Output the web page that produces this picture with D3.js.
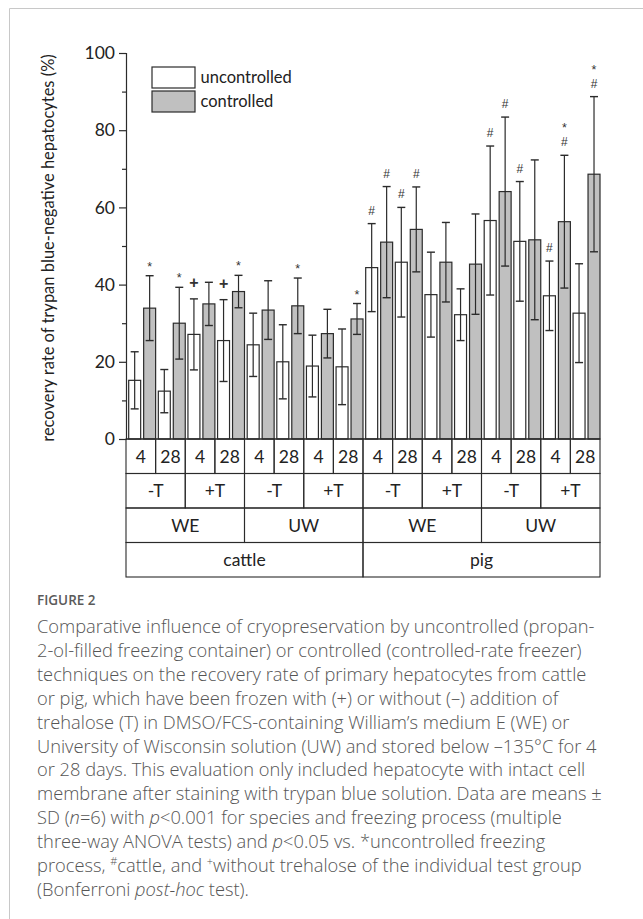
<!DOCTYPE html>
<html>
<head>
<meta charset="utf-8">
<script src="https://cdn.jsdelivr.net/npm/d3@7"></script>
<style>
  html, body { margin: 0; padding: 0; background: #fff; }
  svg { display: block; }
</style>
</head>
<body>
<svg id="chart" width="643" height="919"></svg>
<script>
// ---------- DATA ----------
const species = ["cattle", "pig"];
const media = ["WE", "UW", "WE", "UW"];
const trehalose = ["-T", "+T", "-T", "+T", "-T", "+T", "-T", "+T"];
const days = ["4", "28", "4", "28", "4", "28", "4", "28", "4", "28", "4", "28", "4", "28", "4", "28"];
const seriesNames = ["uncontrolled", "controlled"];

const uncontrolledMean = [15.2, 12.4, 27.1, 25.5, 24.4, 20.0, 18.9, 18.7, 44.4, 45.8, 37.4, 32.2, 56.6, 51.2, 37.1, 32.6];
const uncontrolledSD   = [7.4, 5.6, 9.2, 10.6, 8.2, 9.6, 8.0, 9.8, 11.4, 14.2, 11.0, 6.7, 19.3, 15.5, 9.0, 12.8];
const controlledMean   = [33.9, 30.0, 35.0, 38.2, 33.4, 34.5, 27.3, 31.1, 51.0, 54.3, 45.8, 45.3, 64.1, 51.6, 56.3, 68.6];
const controlledSD     = [8.4, 9.3, 5.6, 4.2, 7.6, 7.2, 6.3, 4.0, 14.4, 11.0, 10.3, 13.0, 19.3, 20.7, 17.2, 20.1];

// significance markers (listed bottom to top)
const uncontrolledMarks = [[], [], ["+"], ["+"], [], [], [], [], ["#"], ["#"], [], [], ["#"], ["#"], ["#"], []];
const controlledMarks   = [["*"], ["*"], [], ["*"], [], ["*"], [], ["*"], ["#"], ["#"], [], [], ["#"], [], ["#", "*"], ["#", "*"]];

const yTicks = [0, 20, 40, 60, 80, 100];
const yMinorTicks = [10, 30, 50, 70, 90];

const yTitle = "recovery rate of trypan blue-negative hepatocytes (%)";
const captionTitle = "FIGURE 2";

// ---------- SETUP ----------
const svg = d3.select("#chart");
const ink = "#2b2b2b";
const chartFont = "Lato, 'Open Sans', sans-serif";

const x0 = 126, x1 = 600, yTop = 53, yBase = 439;
const rowH = 34.5;

const y = d3.scaleLinear().domain([0, 100]).range([yBase, yTop]);
const xCol = d3.scaleBand().domain(d3.range(days.length)).range([x0, x1]).padding(0);
const xSer = d3.scaleBand().domain(seriesNames).range([0, xCol.bandwidth()])
  .paddingInner(0.2).paddingOuter(0.09).align(1);

// page frame
svg.append("line").attr("x1", 9.5).attr("x2", 643).attr("y1", 8.5).attr("y2", 8.5)
  .attr("stroke", "#c8c8c8").attr("stroke-width", 1);
svg.append("line").attr("x1", 9.5).attr("x2", 9.5).attr("y1", 8.5).attr("y2", 919)
  .attr("stroke", "#c8c8c8").attr("stroke-width", 1);

// ---------- Y AXIS ----------
const yAxis = d3.axisLeft(y).tickValues(yTicks).tickSize(7).tickPadding(4).tickFormat(d3.format("d"));
const gy = svg.append("g").attr("transform", `translate(${x0},0)`).call(yAxis);
gy.select(".domain").attr("stroke", ink).attr("stroke-width", 1.2);
gy.selectAll(".tick line").attr("stroke", ink).attr("stroke-width", 1.2);
gy.selectAll(".tick text").attr("fill", "#222").style("font-family", chartFont).style("font-size", "17.5px");
const yMinor = d3.axisLeft(y).tickValues(yMinorTicks).tickSize(4).tickFormat("");
const gym = svg.append("g").attr("transform", `translate(${x0},0)`).call(yMinor);
gym.select(".domain").remove();
gym.selectAll(".tick line").attr("stroke", ink).attr("stroke-width", 1.2);

svg.append("text")
  .attr("transform", `translate(54,${(yTop + yBase) / 2 + 2}) rotate(-90)`)
  .attr("text-anchor", "middle")
  .style("font-family", chartFont).style("font-size", "16.5px").attr("fill", "#222")
  .text(yTitle);

// ---------- BARS ----------
const series = [
  { name: "uncontrolled", mean: uncontrolledMean, sd: uncontrolledSD, marks: uncontrolledMarks, fill: "#ffffff" },
  { name: "controlled", mean: controlledMean, sd: controlledSD, marks: controlledMarks, fill: "#c0c0c0" }
];

series.forEach(s => {
  const g = svg.append("g");
  const data = s.mean.map((m, i) => ({ i, m, sd: s.sd[i], marks: s.marks[i] }));
  g.selectAll("rect").data(data).join("rect")
    .attr("x", d => xCol(d.i) + xSer(s.name))
    .attr("width", xSer.bandwidth())
    .attr("y", d => y(d.m))
    .attr("height", d => y(0) - y(d.m))
    .attr("fill", s.fill).attr("stroke", ink).attr("stroke-width", 1.2);
  const cx = d => xCol(d.i) + xSer(s.name) + xSer.bandwidth() / 2;
  const cap = 4;
  g.selectAll("line.v").data(data).join("line").attr("class", "v")
    .attr("x1", cx).attr("x2", cx)
    .attr("y1", d => y(d.m + d.sd)).attr("y2", d => y(d.m - d.sd))
    .attr("stroke", ink).attr("stroke-width", 1.2);
  g.selectAll("line.t").data(data).join("line").attr("class", "t")
    .attr("x1", d => cx(d) - cap).attr("x2", d => cx(d) + cap)
    .attr("y1", d => y(d.m + d.sd)).attr("y2", d => y(d.m + d.sd))
    .attr("stroke", ink).attr("stroke-width", 1.4);
  g.selectAll("line.b").data(data).join("line").attr("class", "b")
    .attr("x1", d => cx(d) - cap).attr("x2", d => cx(d) + cap)
    .attr("y1", d => y(d.m - d.sd)).attr("y2", d => y(d.m - d.sd))
    .attr("stroke", ink).attr("stroke-width", 1.4);
  // markers, stacked bottom to top
  data.filter(d => d.marks.length).forEach(d => {
    const top = y(d.m + d.sd);
    let base = top - 9;
    d.marks.forEach((mk, k) => {
      let size = 12, b = base;
      if (mk === "*") { size = 12.5; if (k === 0) b = base + 4; }
      if (mk === "+") { size = 16; b = base - 2; }
      svg.append("text")
        .attr("x", cx(d)).attr("y", b)
        .attr("text-anchor", "middle")
        .style("font-family", "'Liberation Sans', Arial, sans-serif")
        .style("font-size", size + "px")
        .style("font-weight", mk === "+" ? "bold" : "normal")
        .attr("fill", "#333")
        .text(mk);
      base -= 14;
    });
  });
});

// x baseline
svg.append("line").attr("x1", x0).attr("x2", x1).attr("y1", yBase).attr("y2", yBase)
  .attr("stroke", ink).attr("stroke-width", 1.2);

// ---------- CATEGORY TABLE ----------
const rows = [days, trehalose, media, species];
const tbl = svg.append("g");
rows.forEach((labels, r) => {
  const span = days.length / labels.length;
  const top = yBase + r * rowH;
  labels.forEach((lab, j) => {
    const xa = xCol(j * span);
    const xb = xCol(j * span + span - 1) + xCol.bandwidth();
    tbl.append("rect").attr("x", xa).attr("y", top).attr("width", xb - xa).attr("height", rowH)
      .attr("fill", "none").attr("stroke", ink).attr("stroke-width", 1.1);
    tbl.append("text").attr("x", (xa + xb) / 2).attr("y", top + rowH / 2 + 6.5)
      .attr("text-anchor", "middle")
      .style("font-family", chartFont).style("font-size", "17.5px").attr("fill", "#222")
      .text(lab);
  });
});

// ---------- LEGEND ----------
const leg = svg.append("g");
series.forEach((s, k) => {
  const ly = 67 + k * 24;
  leg.append("rect").attr("x", 152).attr("y", ly).attr("width", 43).attr("height", 21)
    .attr("fill", s.fill).attr("stroke", ink).attr("stroke-width", 1.2);
  leg.append("text").attr("x", 200.5).attr("y", ly + 16)
    .style("font-family", chartFont).style("font-size", "16.5px").attr("fill", "#222")
    .text(s.name);
});

// ---------- CAPTION ----------
const capFont = "'Open Sans', 'Noto Sans', sans-serif";
svg.append("text").attr("x", 37).attr("y", 605)
  .style("font-family", capFont).style("font-size", "13.5px").style("font-weight", "600")
  .attr("fill", "#5a5a5a").text(captionTitle);

// each line: array of [text, style] segments; style: "" | "i" | "sup"
const captionLines = [
  [["Comparative influence of cryopreservation by uncontrolled (propan-", ""]],
  [["2-ol-filled freezing container) or controlled (controlled-rate freezer)", ""]],
  [["techniques on the recovery rate of primary hepatocytes from cattle", ""]],
  [["or pig, which have been frozen with (+) or without (\u2013) addition of", ""]],
  [["trehalose (T) in DMSO/FCS-containing William\u2019s medium E (WE) or", ""]],
  [["University of Wisconsin solution (UW) and stored below \u2013135\u00b0C for 4", ""]],
  [["or 28 days. This evaluation only included hepatocyte with intact cell", ""]],
  [["membrane after staining with trypan blue solution. Data are means \u00b1", ""]],
  [["SD (", ""], ["n", "i"], ["=6) with ", ""], ["p", "i"], ["<0.001 for species and freezing process (multiple", ""]],
  [["three-way ANOVA tests) and ", ""], ["p", "i"], ["<0.05 vs. *uncontrolled freezing", ""]],
  [["process, ", ""], ["#", "sup"], ["cattle, and ", ""], ["+", "sup"], ["without trehalose of the individual test group", ""]],
  [["(Bonferroni ", ""], ["post-hoc", "i"], [" test).", ""]]
];
const cap = svg.append("g");
captionLines.forEach((segs, i) => {
  const t = cap.append("text").attr("x", 37).attr("y", 633 + i * 23.9)
    .style("font-family", capFont).style("font-size", "18.3px").style("font-weight", "300")
    .attr("fill", "#555");
  segs.forEach(([txt, st]) => {
    const ts = t.append("tspan").text(txt);
    if (st === "i") ts.style("font-style", "italic");
    if (st === "sup") ts.attr("baseline-shift", "super").style("font-size", "11px");
  });
});
</script>
</body>
</html>
